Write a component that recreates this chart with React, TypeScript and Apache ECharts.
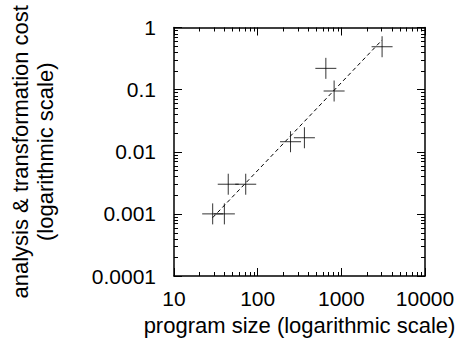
import React, { useEffect, useRef } from "react";
import * as echarts from "echarts";

// Data (program size, analysis & transformation cost)
const programSize = [29, 40, 44.5, 72, 247, 362, 653, 820, 3070];
const analysisCost = [0.001, 0.001, 0.003, 0.003, 0.0145, 0.0168, 0.22, 0.095, 0.49];

// Fitted (dashed) line endpoints
const fitSize = [29, 3070];
const fitCost = [0.00087, 0.63];

const xTickLabels = ["10", "100", "1000", "10000"];
const yTickLabels = ["0.0001", "0.001", "0.01", "0.1", "1"];
const xDecades = [10, 100, 1000];
const yDecades = [0.0001, 0.001, 0.01, 0.1];
const minorMultipliers = [2, 3, 4, 5, 6, 7, 8, 9];

const FONT = "'Liberation Sans', Arial, Helvetica, sans-serif";
const FS = 21;
const TFS = 22;

export default function App() {
  const ref = useRef<HTMLDivElement>(null);
  useEffect(() => {
    if (!ref.current) return;
    const chart = echarts.init(ref.current, null, { renderer: "svg" });

    const xMinor = xDecades.flatMap((d) => minorMultipliers.map((m) => [d * m, 1]));
    const yMinor = yDecades.flatMap((d) => minorMultipliers.map((m) => [10, d * m]));

    const xLabel = (v: number) => {
      const i = Math.round(Math.log10(v)) - 1;
      return xTickLabels[i] ?? "";
    };
    const yLabel = (v: number) => {
      const i = Math.round(Math.log10(v)) + 4;
      return yTickLabels[i] ?? "";
    };

    const common = {
      type: "log" as const,
      logBase: 10,
      axisLine: { show: true, lineStyle: { color: "#000", width: 1.5 } },
      axisTick: { show: true, inside: true, length: 8, lineStyle: { color: "#000", width: 1 } },
      splitLine: { show: false },
    };

    chart.setOption({
      animation: false,
      backgroundColor: "#fff",
      grid: { left: 172, top: 27.5, width: 253, height: 248.5, containLabel: false },
      xAxis: [
        {
          ...common,
          position: "bottom",
          min: 10,
          max: 10000,
          axisLabel: {
            formatter: xLabel,
            color: "#000",
            fontSize: FS,
            fontFamily: FONT,
            margin: 12,
          },
          name: "program size (logarithmic scale)",
          nameLocation: "middle",
          nameGap: 38,
          nameTextStyle: { color: "#000", fontSize: TFS, fontFamily: FONT },
        },
        {
          ...common,
          position: "top",
          min: 10,
          max: 10000,
          axisLabel: { show: false },
        },
      ],
      yAxis: [
        {
          ...common,
          position: "left",
          min: 0.0001,
          max: 1,
          axisLabel: {
            formatter: yLabel,
            color: "#000",
            fontSize: FS,
            fontFamily: FONT,
            margin: 18,
          },
          name: "analysis & transformation cost\n(logarithmic scale)",
          nameLocation: "middle",
          nameGap: 116,
          nameTextStyle: { color: "#000", fontSize: TFS, fontFamily: FONT, lineHeight: 25, align: "center" },
        },
        {
          ...common,
          position: "right",
          min: 0.0001,
          max: 1,
          axisLabel: { show: false },
        },
      ],
      series: [
        {
          type: "line",
          data: fitSize.map((x, i) => [x, fitCost[i]]),
          showSymbol: false,
          symbol: "none",
          lineStyle: { color: "#000", width: 1, type: [4, 3] },
          silent: true,
          z: 2,
        },
        {
          type: "scatter",
          data: programSize.map((x, i) => [x, analysisCost[i]]),
          symbol: "path://M0,10L20,10M10,0L10,20",
          symbolSize: 21,
          itemStyle: { color: "none", borderColor: "#000", borderWidth: 1 },
          z: 3,
        },
        {
          type: "custom",
          data: xMinor,
          silent: true,
          clip: false,
          renderItem: (params: any, api: any) => {
            const cs = params.coordSys;
            const p = api.coord([api.value(0), api.value(1)]);
            const x = Math.round(p[0]) + 0.5;
            const st = { stroke: "#000", lineWidth: 1 };
            return {
              type: "group",
              children: [
                { type: "line", shape: { x1: x, y1: cs.y + cs.height, x2: x, y2: cs.y + cs.height - 4 }, style: st },
                { type: "line", shape: { x1: x, y1: cs.y, x2: x, y2: cs.y + 4 }, style: st },
              ],
            };
          },
        },
        {
          type: "custom",
          data: yMinor,
          silent: true,
          clip: false,
          renderItem: (params: any, api: any) => {
            const cs = params.coordSys;
            const p = api.coord([api.value(0), api.value(1)]);
            const y = Math.round(p[1]) + 0.5;
            const st = { stroke: "#000", lineWidth: 1 };
            return {
              type: "group",
              children: [
                { type: "line", shape: { x1: cs.x, y1: y, x2: cs.x + 4, y2: y }, style: st },
                { type: "line", shape: { x1: cs.x + cs.width, y1: y, x2: cs.x + cs.width - 4, y2: y }, style: st },
              ],
            };
          },
        },
      ],
    });
    return () => chart.dispose();
  }, []);
  return (
    <div
      ref={ref}
      style={{ position: "fixed", left: 0, top: 0, width: 461, height: 344, background: "#fff" }}
    />
  );
}
